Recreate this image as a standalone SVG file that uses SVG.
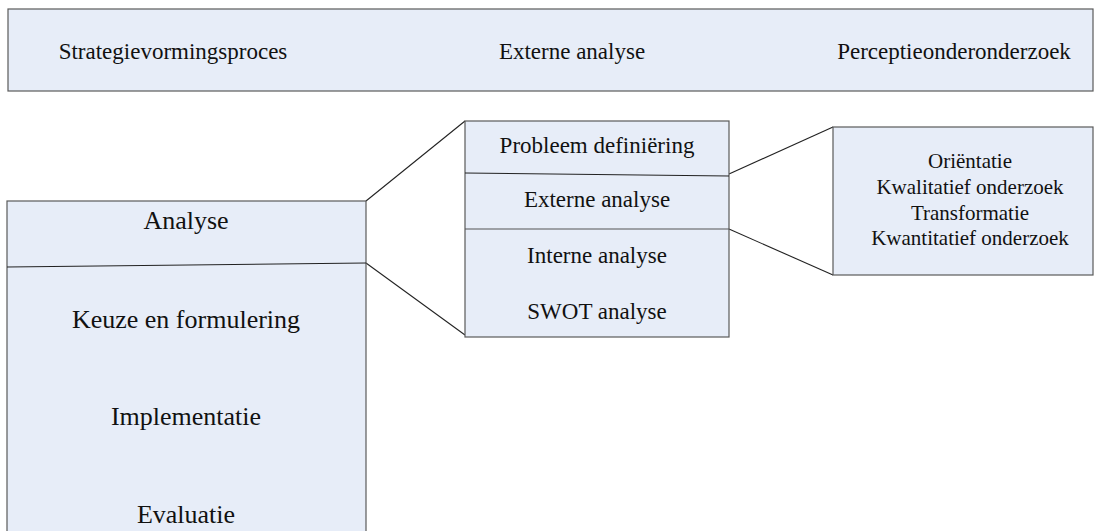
<svg xmlns="http://www.w3.org/2000/svg" width="1097" height="531" viewBox="0 0 1097 531" font-family="'Liberation Serif', 'DejaVu Serif', serif">
<style>
.box{fill:#E7EDF8;stroke:#5a5a5a;stroke-width:1.2}
.div{stroke:#222;stroke-width:1.2;fill:none}
.con{stroke:#222;stroke-width:1.1;fill:none}
.tx{font-family:'Liberation Serif','DejaVu Serif',serif;fill:#111;text-anchor:middle}
.t23{font-size:23px}
.t26{font-size:26px}
.t21{font-size:21px}
</style>
<rect width="1097" height="531" fill="#fff"/>
<g id="topbar">
<rect class="box" x="8" y="9" width="1085" height="82"/>
<text class="tx t23" x="173" y="59">Strategievormingsproces</text>
<text class="tx t23" x="572" y="59">Externe analyse</text>
<text class="tx t23" x="954" y="59">Perceptieonderonderzoek</text>
</g>
<g id="connectors">
<line class="con" x1="366" y1="201" x2="465" y2="121"/>
<line class="con" x1="366" y1="263" x2="465" y2="335"/>
<line class="con" x1="729" y1="174" x2="833" y2="127"/>
<line class="con" x1="729" y1="229" x2="833" y2="275"/>
</g>
<g id="strategy">
<rect class="box" x="7" y="201" width="359" height="340"/>
<line class="div" x1="7" y1="267" x2="366" y2="263"/>
<text class="tx t26" x="186" y="229">Analyse</text>
<text class="tx t26" x="186" y="328">Keuze en formulering</text>
<text class="tx t26" x="186" y="425">Implementatie</text>
<text class="tx t26" x="186" y="523">Evaluatie</text>
</g>
<g id="analysis">
<rect class="box" x="465" y="121" width="264" height="216"/>
<line class="div" x1="465" y1="173" x2="729" y2="176"/>
<line class="div" x1="465" y1="229" x2="729" y2="229" style="stroke:#555"/>
<text class="tx t23" x="597" y="153">Probleem definiëring</text>
<text class="tx t23" x="597" y="207">Externe analyse</text>
<text class="tx t23" x="597" y="263">Interne analyse</text>
<text class="tx t23" x="597" y="319">SWOT analyse</text>
</g>
<g id="perception">
<rect class="box" x="833" y="127" width="260" height="148"/>
<text class="tx t21" x="970" y="168">Oriëntatie</text>
<text class="tx t21" x="970" y="194">Kwalitatief onderzoek</text>
<text class="tx t21" x="970" y="220">Transformatie</text>
<text class="tx t21" x="970" y="245">Kwantitatief onderzoek</text>
</g>
</svg>
